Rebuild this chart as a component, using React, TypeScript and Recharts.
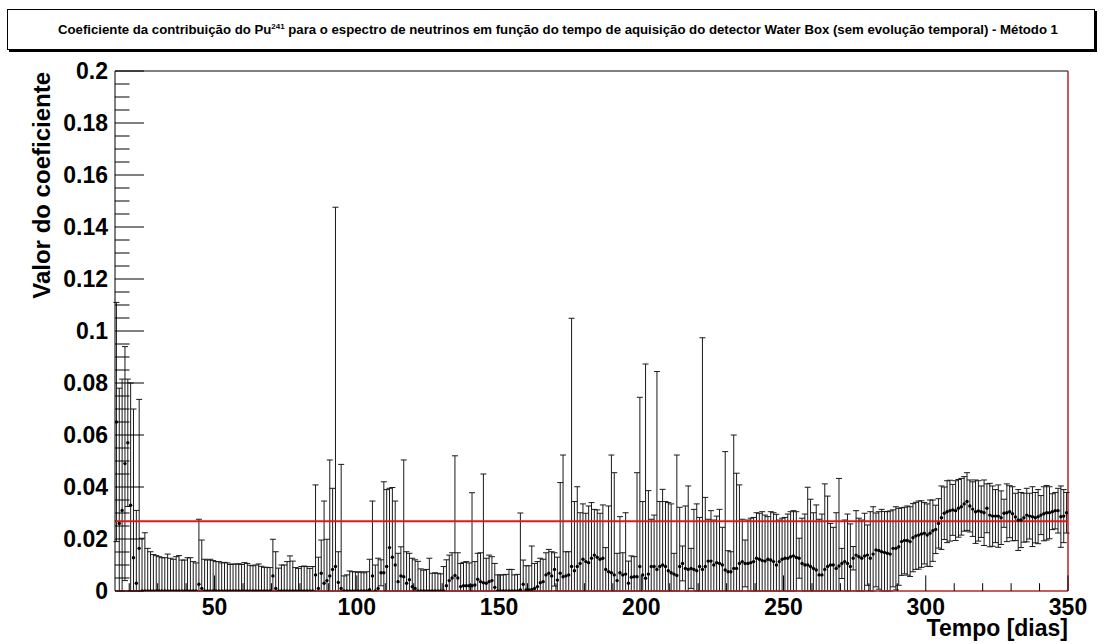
import React from 'react'
import { ComposedChart, Scatter, ErrorBar, XAxis, YAxis, ReferenceLine } from 'recharts'

// one-day bins, first bin centred at 15.5 days
const FIRST_BIN = 15.5
const FIT_VALUE = 0.0268

// fitted coefficient per bin (dots)
const coefStart = [
  0.065, 0.026, 0.031, 0.049, 0.057, 0.033, 0.0128, 0.003, 0.0164, 0, 0, 0, 0, 0, 0, 0,
  0, 0, 0, 0, 0, 0, 0, 0, 0, 0, 0, 0, 0, 0.0026, 0.001,
]
const coefLow = [
  0, 0, 0, 0, 0, 0, 0, 0, 0, 0, 0, 0, 0, 0, 0, 0, 0, 0, 0, 0, 0, 0, 0, 0, 0.0058, 0.001, 0,
  0, 0, 0, 0, 0, 0, 0, 0, 0, 0, 0, 0, 0.0062, 0.001, 0.0068, 0.003, 0.004, 0.0058, 0.0083,
  0.0094, 0.0033, 0.001, 0, 0, 0, 0, 0, 0, 0, 0, 0, 0.0005, 0.0058, 0, 0.001,
]
const coefMid = [
  0.007, 0.007, 0.0094, 0.0167, 0.013, 0.01, 0.0036, 0.0058, 0.0055, 0.003, 0.0043, 0.0017,
  0.001, 0, 0, 0, 0, 0, 0, 0, 0, 0, 0, 0.002, 0.004, 0.005, 0.006, 0.005, 0.0017, 0.002,
  0.002, 0.002, 0.002, 0.0023, 0.0045, 0.0036, 0.0032, 0.003, 0.0036, 0.004, 0.0014, 0, 0,
  0, 0, 0, 0, 0, 0, 0.0004, 0.0026, 0.0004, 0.0004, 0.0006, 0.001, 0.0017, 0.0032, 0.0036,
  0.0062, 0.0068, 0.0058, 0.0083, 0.0042, 0.0068, 0.0055, 0.0058, 0.0062, 0.0094,
]
const coefRise = [
  0.0078, 0.0094, 0.0106, 0.0122, 0.0113, 0.0109, 0.0126, 0.0138, 0.013, 0.0122, 0.0126,
  0.0083, 0.0074, 0.007, 0.0062, 0.004, 0.007, 0.0062, 0.0065, 0.003, 0.0053, 0.0055,
  0.0055, 0.0094, 0.0062, 0.0049, 0.0065, 0.0094, 0.0094, 0.0083, 0.0094, 0.01, 0.0094,
  0.0078,
]
const coefLate = [
  0.007, 0.0065, 0.006, 0.0094, 0.0106, 0.0087, 0.0083, 0.0087, 0.0083, 0.0078, 0.0094,
  0.0083, 0.0094, 0.0115, 0.0115, 0.01, 0.0109, 0.0106, 0.01, 0.0081, 0.0074, 0.0074,
  0.0087, 0.0087, 0.0106, 0.0113, 0.0106, 0.0106, 0.0109, 0.0113, 0.0126, 0.0122, 0.0117,
  0.0115, 0.0122, 0.0119, 0.0113, 0.01, 0.0113, 0.0122, 0.0126, 0.0126, 0.0132, 0.0135,
  0.0129, 0.0126, 0.0106, 0.01, 0.01, 0.0094, 0.0087, 0.0081, 0.0062, 0.0062, 0.0083,
  0.0094, 0.01, 0.01, 0.0087, 0.0096, 0.0106, 0.0113, 0.0106, 0.0094, 0.0126, 0.0138,
  0.0132, 0.0126, 0.0135, 0.0138,
]
const coefEnd = [
  0.0126, 0.0142, 0.0158, 0.0156, 0.0151, 0.0148, 0.0145, 0.0142, 0.0164, 0.0164, 0.017,
  0.019, 0.0194, 0.0194, 0.019, 0.0205, 0.0212, 0.0215, 0.0219, 0.0222, 0.0215, 0.0222,
  0.0232, 0.0237, 0.026, 0.0282, 0.0299, 0.0305, 0.0309, 0.0312, 0.0309, 0.0318, 0.0324,
  0.0335, 0.0344, 0.0327, 0.0315, 0.0305, 0.0308, 0.0305, 0.0301, 0.0318, 0.0292, 0.0288,
  0.0288, 0.0288, 0.0282, 0.0299, 0.0301, 0.0305, 0.0297, 0.0285, 0.0273, 0.0273, 0.0282,
  0.0292, 0.0288, 0.0286, 0.0282, 0.0286, 0.0292, 0.0297, 0.0301, 0.0301, 0.0305, 0.0309,
  0.0309, 0.0286, 0.0288, 0.0301,
]

// upper end of each error bar
const upperStart = [
  0.111, 0.078, 0.0815, 0.094, 0.0815, 0.08, 0.07, 0.031, 0.0737, 0.0203, 0.0224, 0.0164,
  0.0151, 0.014, 0.0136, 0.0132, 0.0128, 0.0128, 0.0142, 0.0126, 0.0122, 0.0132, 0.0136,
  0.0119, 0.0119, 0.0128, 0.0128, 0.0113, 0.0108, 0.0276, 0.0196,
]
const upperLow = [
  0.0122, 0.0119, 0.0122, 0.0117, 0.0113, 0.0113, 0.0108, 0.011, 0.0108, 0.0102, 0.0104,
  0.0103, 0.0105, 0.0102, 0.0109, 0.0106, 0.0099, 0.0097, 0.01, 0.0104, 0.0095, 0.0091,
  0.0091, 0.009, 0.0199, 0.0151, 0.0088, 0.01, 0.01, 0.0113, 0.0135, 0.0115, 0.009, 0.0087,
  0.0094, 0.0096, 0.0094, 0.0087, 0.0094, 0.0408, 0.013, 0.0196, 0.0346, 0.0199, 0.0504,
  0.0395, 0.1476, 0.0151, 0.0487, 0.0058, 0.0062, 0.0077, 0.0074, 0.0074, 0.0072, 0.0074,
  0.007, 0.0074, 0.0122, 0.0346, 0.01, 0.0126,
]
const upperMid = [
  0.012, 0.042, 0.039, 0.0395, 0.0398, 0.0346, 0.0145, 0.017, 0.0504, 0.0151, 0.0145,
  0.0126, 0.012, 0.0114, 0.0085, 0.008, 0.0083, 0.0126, 0.0068, 0.007, 0.0068, 0.0066,
  0.0094, 0.012, 0.0138, 0.0147, 0.052, 0.0147, 0.0106, 0.011, 0.0113, 0.0108, 0.0378,
  0.0113, 0.0145, 0.0147, 0.045, 0.0126, 0.0138, 0.0132, 0.0106, 0.0062, 0.0062, 0.0062,
  0.0064, 0.0083, 0.0083, 0.0062, 0.0064, 0.03, 0.0119, 0.0097, 0.0097, 0.0173, 0.0106,
  0.0113, 0.0126, 0.0122, 0.0147, 0.016, 0.0151, 0.0147, 0.013, 0.0417, 0.0523, 0.0151,
  0.0151, 0.1049,
]
const upperRise = [
  0.0344, 0.0401, 0.0301, 0.0335, 0.0299, 0.0327, 0.034, 0.0314, 0.0312, 0.0299, 0.0331,
  0.0167, 0.0327, 0.0523, 0.0455, 0.0145, 0.0286, 0.0147, 0.0301, 0.0115, 0.0135, 0.0132,
  0.0455, 0.0745, 0.0344, 0.0873, 0.0386, 0.0276, 0.0292, 0.0844, 0.0344, 0.0391, 0.0344,
  0.034,
]
const upperLate = [
  0.0335, 0.0145, 0.0523, 0.0322, 0.0173, 0.0327, 0.0404, 0.0164, 0.0314, 0.0335, 0.0283,
  0.0974, 0.036, 0.0276, 0.0309, 0.0273, 0.0288, 0.0314, 0.0245, 0.0536, 0.0155, 0.0151,
  0.06, 0.0453, 0.0408, 0.0276, 0.0196, 0.0273, 0.028, 0.0283, 0.0301, 0.0299, 0.0305,
  0.0292, 0.0286, 0.0305, 0.0301, 0.0295, 0.0273, 0.028, 0.0283, 0.0296, 0.0305, 0.0309,
  0.0305, 0.0203, 0.028, 0.0296, 0.0399, 0.0353, 0.0301, 0.0331, 0.0276, 0.0296, 0.0412,
  0.0365, 0.026, 0.0245, 0.0301, 0.0433, 0.0164, 0.0273, 0.0296, 0.0258, 0.0171, 0.0309,
  0.028, 0.0273, 0.0299, 0.0254,
]
const upperEnd = [
  0.0305, 0.0324, 0.03, 0.0305, 0.0314, 0.0306, 0.0305, 0.0308, 0.0312, 0.0324, 0.0318,
  0.032, 0.0322, 0.0327, 0.0324, 0.0336, 0.0341, 0.0346, 0.0347, 0.034, 0.0335, 0.035,
  0.035, 0.033, 0.0355, 0.0404, 0.04, 0.0424, 0.0426, 0.041, 0.0424, 0.0429, 0.0433, 0.044,
  0.0455, 0.0427, 0.042, 0.0427, 0.0424, 0.0404, 0.0427, 0.0412, 0.0414, 0.0404, 0.039,
  0.0408, 0.0385, 0.0353, 0.0412, 0.0405, 0.0401, 0.0376, 0.039, 0.0379, 0.0376, 0.0395,
  0.0376, 0.0401, 0.0379, 0.039, 0.0367, 0.0401, 0.0406, 0.0401, 0.0374, 0.0379, 0.0395,
  0.0404, 0.039, 0.0379,
]

const coef = [...coefStart, ...coefLow, ...coefMid, ...coefRise, ...coefLate, ...coefEnd]
const upper = [...upperStart, ...upperLow, ...upperMid, ...upperRise, ...upperLate, ...upperEnd]

const xMajor = [50, 100, 150, 200, 250, 300, 350]
const yMajor = [0, 0.02, 0.04, 0.06, 0.08, 0.1, 0.12, 0.14, 0.16, 0.18, 0.2]

// symmetric errors; the lower half is cut at the frame (y = 0) like ROOT does
const rows = coef.map((v, i) => {
  const e = Math.max(upper[i] - v, 0)
  return { day: FIRST_BIN + i, coef: v, err: [Math.min(e, v), e] }
})

// ROOT-style minor ticks: every 10 days, every 0.005
const xTicks: number[] = []
for (let d = 20; d <= 350; d += 10) xTicks.push(d)
const yTicks: number[] = []
for (let k = 0; k <= 40; k++) yTicks.push(Number((k * 0.005).toFixed(3)))

const FONT = '"Liberation Sans", Arial, Helvetica, sans-serif'
const FRAME_RED = '#b3262b'

function XTick({ x, y, payload }: any) {
  const v = payload.value
  const major = xMajor.includes(v)
  return (
    <g>
      <line x1={x} x2={x} y1={y} y2={y - (major ? 15.6 : 7.8)} stroke="#000" strokeWidth={1} />
      {major && (
        <text x={x} y={y + 24} textAnchor="middle" fontSize={23} fontWeight="bold" fontFamily={FONT} fill="#000">
          {v}
        </text>
      )}
    </g>
  )
}

function YTick({ x, y, payload }: any) {
  const v = payload.value
  const major = yMajor.some((m) => Math.abs(m - v) < 1e-6)
  return (
    <g>
      <line x1={x} x2={x + (major ? 29 : 14.5)} y1={y} y2={y} stroke="#000" strokeWidth={1} />
      {major && (
        <text x={x - 7} y={y + 8} textAnchor="end" fontSize={23} fontWeight="bold" fontFamily={FONT} fill="#000">
          {String(v)}
        </text>
      )}
    </g>
  )
}

function Dot({ cx, cy }: any) {
  return <circle cx={cx} cy={cy} r={1.7} fill="#000" />
}

export default function App() {
  return (
    <div style={{ position: 'absolute', left: 0, top: 0, width: 1105, height: 644, background: '#fff', fontFamily: FONT }}>
      <div
        style={{
          position: 'absolute',
          left: 7,
          top: 9,
          width: 1086,
          height: 39,
          border: '1px solid #000',
          boxShadow: '2px 2px 0 #000',
          background: '#fff',
          display: 'flex',
          alignItems: 'center',
          justifyContent: 'center',
          fontSize: 13.2,
          fontWeight: 'bold',
          color: '#000',
          whiteSpace: 'nowrap',
        }}
      >
        <span style={{ marginLeft: 14 }}>
          Coeficiente da contribuição do Pu<sup style={{ fontSize: 8 }}>241</sup> para o espectro de neutrinos em função do
          tempo de aquisição do detector Water Box (sem evolução temporal) - Método 1
        </span>
      </div>
      <ComposedChart width={1105} height={644} margin={{ top: 71, right: 37, bottom: 0, left: 0 }} data={rows}>
        <XAxis
          type="number"
          dataKey="day"
          domain={[15, 350]}
          ticks={xTicks}
          interval={0}
          tickLine={false}
          tickSize={0}
          tickMargin={0}
          height={53}
          axisLine={{ stroke: FRAME_RED, strokeWidth: 1.5 }}
          tick={<XTick />}
          allowDataOverflow
        />
        <YAxis
          type="number"
          domain={[0, 0.2]}
          ticks={yTicks}
          interval={0}
          tickLine={false}
          tickSize={0}
          tickMargin={0}
          width={115}
          axisLine={{ stroke: '#000', strokeWidth: 1 }}
          tick={<YTick />}
          allowDataOverflow
        />
        <ReferenceLine y={0.2} stroke="#000" strokeWidth={1} />
        <ReferenceLine x={350} stroke={FRAME_RED} strokeWidth={1.5} />
        <Scatter dataKey="coef" isAnimationActive={false} shape={<Dot />}>
          <ErrorBar dataKey="err" direction="y" width={3} stroke="#1a1a1a" strokeWidth={1} isAnimationActive={false} />
        </Scatter>
        <ReferenceLine y={FIT_VALUE} stroke="#dd1a1a" strokeWidth={2} />
      </ComposedChart>
      <svg width={1105} height={644} style={{ position: 'absolute', left: 0, top: 0, pointerEvents: 'none' }}>
        <text
          transform="translate(50,72) rotate(-90)"
          textAnchor="end"
          fontSize={24}
          fontWeight="bold"
          fontFamily={FONT}
          fill="#000"
        >
          Valor do coeficiente
        </text>
        <text x={1068} y={636} textAnchor="end" fontSize={23} fontWeight="bold" fontFamily={FONT} fill="#000">
          Tempo [dias]
        </text>
      </svg>
    </div>
  )
}
